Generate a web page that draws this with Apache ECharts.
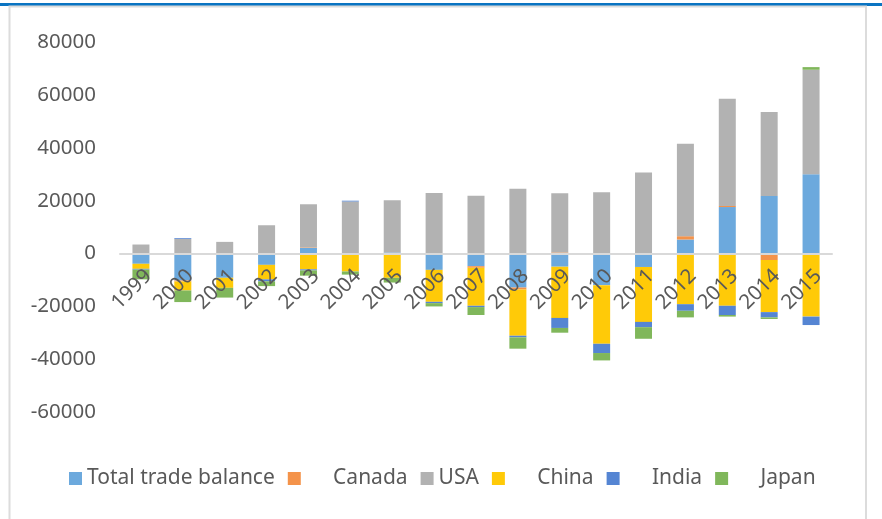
<!DOCTYPE html>
<html>
<head>
<meta charset="utf-8">
<script src="https://cdn.jsdelivr.net/npm/echarts@6/dist/echarts.min.js"></script>
<style>
  html, body { margin: 0; padding: 0; background: #fff; }
  #chart { width: 882px; height: 519px; }
</style>
</head>
<body>
<div id="chart"></div>
<script>
const years = ["1999", "2000", "2001", "2002", "2003", "2004", "2005", "2006", "2007",
  "2008", "2009", "2010", "2011", "2012", "2013", "2014", "2015"];

const totalBalance = [-3900, -10200, -9200, -4300, 2150, -100, 400, -6200, -4800,
  -12900, -5000, -12000, -5100, 5300, 17600, 21800, 30000];
const canada = [0, -400, 0, 0, 200, 0, 0, 0, -600,
  -750, 400, 0, 0, 1250, 400, -2500, -500];
const usa = [3400, 5500, 4400, 10700, 16300, 19700, 19800, 22900, 21900,
  24500, 22400, 23200, 30700, 35000, 40600, 31800, 39600];
const china = [-1900, -3400, -3800, -5500, -6000, -6700, -9200, -12100, -14400,
  -17500, -19400, -22200, -20800, -19200, -19800, -19700, -23400];
const india = [-300, 300, 0, -750, -400, 300, 0, -500, -500,
  -600, -3800, -3500, -2000, -2500, -3500, -2000, -3200];
const japan = [-3700, -4400, -3700, -1800, -2000, -1200, -1800, -1250, -3000,
  -4300, -1800, -2800, -4400, -2500, -600, -600, 1000];

// series names keep the leading blanks seen in the legend
const seriesDefs = [
  { name: "Total trade balance", data: totalBalance, color: "#6CA9DD" },
  { name: "     Canada", data: canada, color: "#F4934A" },
  { name: "USA", data: usa, color: "#B2B2B2" },
  { name: "     China", data: china, color: "#FFCA08" },
  { name: "     India", data: india, color: "#5585D3" },
  { name: "     Japan", data: japan, color: "#80B75B" },
];

const font = "Noto Sans";
const textColor = "#595959";

const gridTop = 42.3;
const gridBottomY = 411.9;
const yMin = -60000;
const yMax = 80000;
// the category axis sits on the zero line, labels hanging below it
const zeroOffset = (gridBottomY - gridTop) * (0 - yMin) / (yMax - yMin);

const chart = echarts.init(document.getElementById("chart"));

const option = {
  backgroundColor: "#fff",
  animation: false,
  graphic: [
    {
      type: "rect",
      shape: { x: 0, y: 3, width: 882, height: 3 },
      style: { fill: "#0A74C2" },
    },
    {
      type: "rect",
      shape: { x: 9.5, y: 6.5, width: 856.5, height: 530 },
      style: { fill: "none", stroke: "#DCDCDC", lineWidth: 2 },
    },
  ],
  grid: {
    left: 120,
    right: 50,
    top: gridTop,
    bottom: 519 - gridBottomY,
  },
  legend: {
    left: 64,
    top: 463,
    icon: "rect",
    itemWidth: 13,
    itemHeight: 13,
    itemGap: 13,
    textStyle: { fontFamily: font, fontSize: 21, color: textColor },
    data: seriesDefs.map((s) => s.name),
  },
  xAxis: {
    type: "category",
    data: years,
    position: "bottom",
    offset: -zeroOffset,
    z: 5,
    axisLine: { onZero: false, lineStyle: { color: "#D9D9D9", width: 2 } },
    axisTick: { show: false },
    axisLabel: {
      rotate: 45,
      margin: 12,
      verticalAlign: "top",
      fontFamily: font,
      fontSize: 20.5,
      color: textColor,
    },
  },
  yAxis: {
    type: "value",
    min: yMin,
    max: yMax,
    interval: 20000,
    splitLine: { show: false },
    axisLine: { show: false },
    axisTick: { show: false },
    axisLabel: {
      margin: 24,
      padding: [5, 0, 0, 0],
      fontFamily: font,
      fontSize: 20.5,
      color: textColor,
      formatter: (v) => String(v),
    },
  },
  series: seriesDefs.map((s) => ({
    name: s.name,
    type: "bar",
    stack: "trade",
    barWidth: 17,
    data: s.data,
    itemStyle: { color: s.color },
  })),
};

chart.setOption(option);
</script>
</body>
</html>
